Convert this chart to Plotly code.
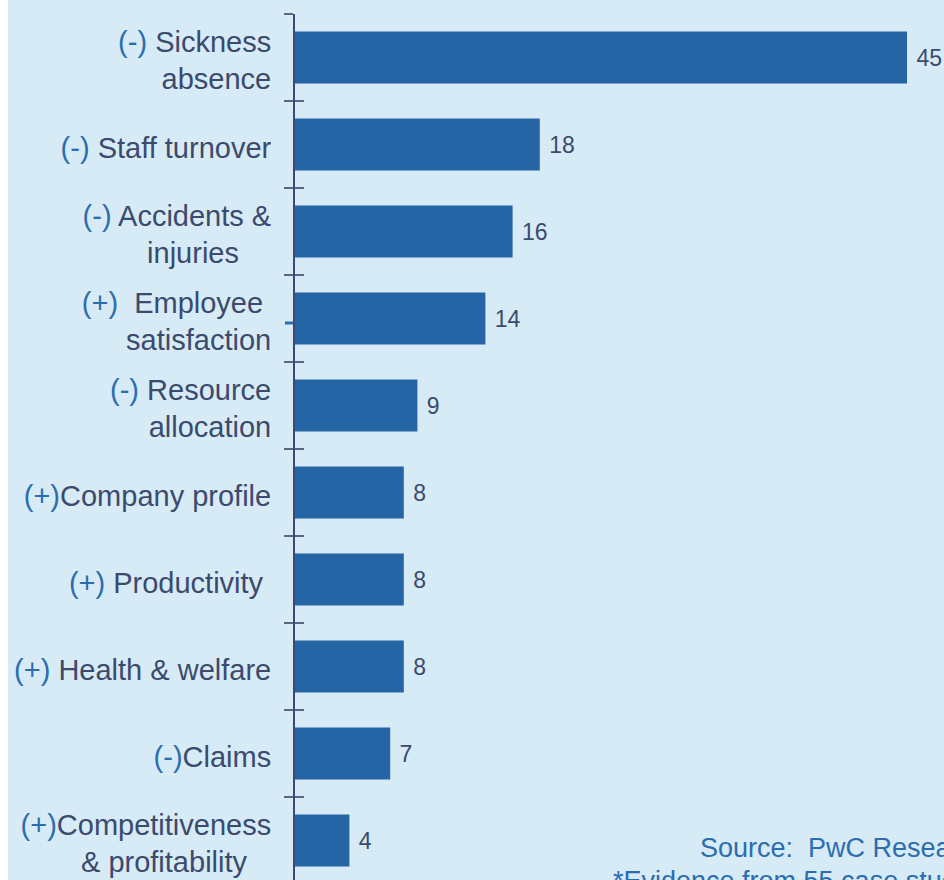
import plotly.graph_objects as go

NB = "\u00a0"
prefixes = ["(-) ", "(-) ", "(-) ", "(+)" + NB + " ", "(-) ", "(+)", "(+) ", "(+) ", "(-)", "(+)"]
label_lines = [
    ["Sickness", "absence"],
    ["Staff turnover"],
    ["Accidents &", "injuries" + NB * 4],
    ["Employee" + NB, "satisfaction"],
    ["Resource", "allocation"],
    ["Company profile"],
    ["Productivity" + NB],
    ["Health & welfare"],
    ["Claims"],
    ["Competitiveness", "& profitability" + NB * 3],
]
values = [45, 18, 16, 14, 9, 8, 8, 8, 7, 4]

BG = "#D6EBF5"
BAR = "#2565A6"
NAVY = "#3B4A6D"
PREF = "#2C6DB0"

ticktext = []
for p, lines in zip(prefixes, label_lines):
    first = f"<span style='color:{PREF}'>{p}</span>{lines[0]}"
    ticktext.append("<br>".join([first] + lines[1:]))

cats = [f"c{i}" for i in range(len(values))]

fig = go.Figure()
fig.add_trace(go.Bar(
    x=values, y=cats, orientation="h",
    marker=dict(color=BAR, line=dict(width=0)),
    width=0.6,
    text=[f" {v}" for v in values],
    textposition="outside",
    textfont=dict(family="Liberation Sans, Arial", size=23, color=NAVY),
    cliponaxis=False,
    constraintext="none",
    hoverinfo="skip",
))
fig.add_trace(go.Scatter(
    x=[0] * len(values), y=cats, yaxis="y2", mode="markers",
    marker=dict(opacity=0), hoverinfo="skip", showlegend=False,
))

W, H = 944, 880
L, T = 295, 14
pw = W - L
ph = H - T

def px(xp):
    return (xp - L) / pw

def py(yp):
    return (H - yp) / ph

fig.update_layout(
    width=W, height=H,
    margin=dict(l=L, r=0, t=T, b=0, pad=0),
    paper_bgcolor=BG, plot_bgcolor=BG,
    showlegend=False,
    font=dict(family="Liberation Sans, Arial", color=NAVY),
    xaxis=dict(range=[0, pw / 13.6], visible=False, showgrid=False, zeroline=False),
    yaxis=dict(
        type="category", categoryarray=cats, tickvals=cats, ticktext=ticktext,
        range=[9.5 - 4 / 87, -0.5],
        showline=True, linecolor=NAVY, linewidth=2,
        ticks="outside", tickson="boundaries", ticklen=9, tickwidth=1.5, tickcolor="#5B6684",
        tickfont=dict(family="Liberation Sans, Arial", size=29, color=NAVY),
        ticklabelstandoff=16,
        ticklabelshift=-3,
        showgrid=False, zeroline=False,
    ),
    yaxis2=dict(
        type="category", categoryarray=cats, overlaying="y", matches="y", anchor="x", side="left",
        ticks="inside", tickson="boundaries", ticklen=9, tickwidth=1.5, tickcolor="#5B6684",
        showticklabels=False, showline=False, showgrid=False, zeroline=False,
    ),
    shapes=[
        dict(type="rect", xref="paper", yref="paper", x0=px(-5), x1=px(8), y0=-0.1, y1=1.1,
             fillcolor="white", line=dict(width=0), layer="below"),
        dict(type="line", xref="paper", yref="paper", x0=px(285), x1=px(293), y0=py(323), y1=py(323),
             line=dict(color=PREF, width=3)),
    ],
    annotations=[
        dict(text="Source:  PwC Research", xref="paper", yref="paper", x=px(698), y=py(848),
             xanchor="left", yanchor="middle", showarrow=False,
             font=dict(family="Liberation Sans, Arial", size=27, color=PREF)),
        dict(text="*Evidence from 55 case studies", xref="paper", yref="paper", x=px(611), y=py(881),
             xanchor="left", yanchor="middle", showarrow=False,
             font=dict(family="Liberation Sans, Arial", size=27, color=PREF)),
    ],
)

fig.write_html(
    "out.html",
    config={"displayModeBar": False},
    post_script="document.body.style.margin='0px';document.body.style.overflow='hidden';",
)
